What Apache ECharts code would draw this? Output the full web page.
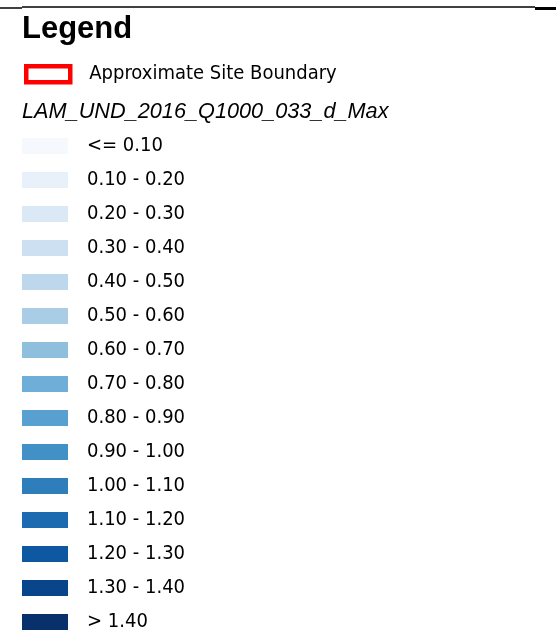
<!DOCTYPE html>
<html>
<head>
<meta charset="utf-8">
<script src="https://cdn.jsdelivr.net/npm/echarts@6/dist/echarts.min.js"></script>
<style>
  html, body { margin: 0; padding: 0; background: #fff; }
  #chart { width: 556px; height: 641px; }
</style>
</head>
<body>
<div id="chart"></div>
<script>
// class breaks of the depth layer (metres)
const breaks = [0.1, 0.2, 0.3, 0.4, 0.5, 0.6, 0.7, 0.8, 0.9, 1.0, 1.1, 1.2, 1.3, 1.4]
const classColors = [
  '#f5f9fe', '#e8f1fa', '#dbe9f6', '#cde0f1', '#bdd7ec',
  '#a8cde4', '#8ec0de', '#6eaed7', '#58a0cf', '#4291c6',
  '#2f7ebc', '#1c6bb0', '#0d58a1', '#08458a', '#08306b'
]
const layerName = 'LAM_UND_2016_Q1000_033_d_Max'
const boundaryName = 'Approximate Site Boundary'

const labelFont = 'DejaVu Sans Condensed, DejaVu Sans, sans-serif'

// pieces built from the breaks: <= first, ranges, > last
const pieces = []
pieces.push({ lte: breaks[0], label: '<= ' + breaks[0].toFixed(2), color: classColors[0] })
for (let i = 1; i < breaks.length; i++) {
  pieces.push({
    gt: breaks[i - 1], lte: breaks[i],
    label: breaks[i - 1].toFixed(2) + ' - ' + breaks[i].toFixed(2),
    color: classColors[i]
  })
}
pieces.push({ gt: breaks[breaks.length - 1], label: '> ' + breaks[breaks.length - 1].toFixed(2), color: classColors[breaks.length] })

const chart = echarts.init(document.getElementById('chart'))

chart.setOption({
  animation: false,
  backgroundColor: '#fff',
  title: [
    {
      text: 'Legend', left: 22, top: 14, padding: 0,
      textStyle: { fontFamily: 'Liberation Sans, Arial, sans-serif', fontWeight: 'bold', fontSize: 31, color: '#000' }
    },
    {
      text: layerName, left: 22, top: 101, padding: 0,
      textStyle: { fontFamily: 'Liberation Sans, Arial, sans-serif', fontStyle: 'italic', fontWeight: 'normal', fontSize: 21.7, color: '#000' }
    }
  ],
  grid: { show: false, left: 0, top: 0, width: 1, height: 1 },
  xAxis: { show: false, type: 'value' },
  yAxis: { show: false, type: 'value' },
  legend: {
    left: 24, top: 64, padding: 0,
    icon: 'rect', itemWidth: 44, itemHeight: 16,
    selectedMode: false,
    textStyle: { fontFamily: labelFont, fontSize: 20, color: '#000', padding: [0, 0, 0, 14] },
    data: [{
      name: boundaryName,
      itemStyle: { color: '#fff', borderColor: '#ff0000', borderWidth: 4.5 }
    }]
  },
  visualMap: {
    type: 'piecewise',
    seriesIndex: 1,
    left: 22, top: 136, padding: 0,
    orient: 'vertical',
    inverse: true,
    itemWidth: 46, itemHeight: 16, itemGap: 14, textGap: 19,
    itemSymbol: 'rect',
    selectedMode: false,
    hoverLink: false,
    showLabel: true,
    pieces: pieces,
    textStyle: { fontFamily: labelFont, fontSize: 20, color: '#000' }
  },
  series: [
    {
      name: boundaryName, type: 'bar', data: [],
      itemStyle: { color: '#fff', borderColor: '#ff0000', borderWidth: 4.5 }
    },
    { name: layerName, type: 'scatter', data: [] }
  ],
  graphic: [
    { type: 'line', shape: { x1: 22, y1: 7, x2: 535, y2: 7 }, style: { stroke: '#000', lineWidth: 1.5 } },
    { type: 'line', shape: { x1: 0, y1: 8, x2: 22, y2: 8 }, style: { stroke: '#000', lineWidth: 1.5 } },
    { type: 'line', shape: { x1: 535, y1: 8.5, x2: 556, y2: 8.5 }, style: { stroke: '#000', lineWidth: 3 } }
  ]
})
</script>
</body>
</html>
